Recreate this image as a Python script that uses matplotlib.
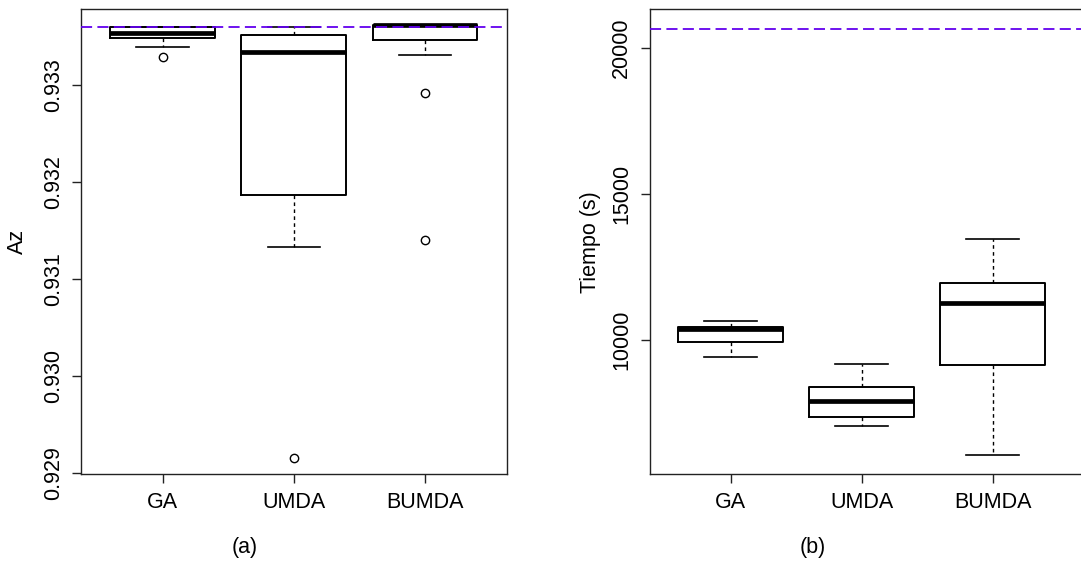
import matplotlib
matplotlib.use("Agg")
import matplotlib.pyplot as plt

plt.rcParams['font.family'] = ['Liberation Sans', 'DejaVu Sans']
plt.rcParams['lines.scale_dashes'] = False

algos = ["GA", "UMDA", "BUMDA"]

# Az per algorithm
az_med = [0.93353, 0.933337, 0.93361]
az_q1 = [0.933481, 0.931860, 0.933458]
az_q3 = [0.933592, 0.933515, 0.93361]
az_lo = [0.933389, 0.931324, 0.933306]
az_hi = [0.933592, 0.933592, 0.93361]
az_out = [[0.933282], [0.929155], [0.932918, 0.931402]]
az_ref = 0.933598
az_ticks = [0.929, 0.930, 0.931, 0.932, 0.933]

# running time (s) per algorithm
t_med = [10366, 7924, 11276]
t_q1 = [9932, 7377, 9135]
t_q3 = [10455, 8393, 11960]
t_lo = [9408, 7059, 6080]
t_hi = [10640, 9190, 13465]
t_out = [[], [], []]
t_ref = 20626
t_ticks = [10000, 15000, 20000]

FS = 15.5
EDGE = '#222222'
REF_COLOR = '#6200ee'


def make_stats(med, q1, q3, lo, hi, out):
    stats = []
    for i, name in enumerate(algos):
        stats.append(dict(label=name, med=med[i], q1=q1[i], q3=q3[i],
                          whislo=lo[i], whishi=hi[i], fliers=out[i]))
    return stats


def draw_panel(ax, stats, ref, ticks, ylabel, xlim, ylim, label_x):
    ax.bxp(stats, positions=[1, 2, 3], widths=0.8, capwidths=0.4,
           boxprops=dict(color='black', linewidth=1.4),
           medianprops=dict(color='black', linewidth=3.4, solid_capstyle='butt'),
           whiskerprops=dict(color='black', linewidth=1.0, linestyle=(0, (2.6, 2.4))),
           capprops=dict(color='black', linewidth=1.2),
           flierprops=dict(marker='o', markerfacecolor='none', markeredgecolor='black',
                           markersize=6, markeredgewidth=1.0))
    ax.axhline(ref, color=REF_COLOR, linewidth=1.3, dashes=(8, 3.8), zorder=5)
    ax.set_xlim(*xlim)
    ax.set_ylim(*ylim)
    ax.set_yticks(ticks)
    ax.set_xticks([1, 2, 3])
    ax.set_xticklabels(algos)
    ax.tick_params(axis='both', direction='out', length=6.5, width=1.0,
                   color=EDGE, labelsize=FS, pad=6)
    ax.tick_params(axis='y', labelrotation=90)
    for lab in ax.get_yticklabels():
        lab.set_va('center')
    for sp in ax.spines.values():
        sp.set_color(EDGE)
        sp.set_linewidth(1.0)
    ax.set_ylabel(ylabel, fontsize=FS)
    ax.yaxis.label.set_va('center')
    ax.yaxis.set_label_coords(label_x, 0.5)


fig = plt.figure(figsize=(10.81, 5.62), dpi=100)
W, H = 1081.0, 562.0

ax1 = fig.add_axes([81 / W, 1 - 474.3 / H, (507 - 81) / W, (474.3 - 9) / H])
draw_panel(ax1, make_stats(az_med, az_q1, az_q3, az_lo, az_hi, az_out), az_ref,
           az_ticks, "Az", (0.377, 3.625), (0.928983, 0.93378), -0.150)
ax1.set_yticklabels(["%.3f" % v for v in az_ticks])

ax2 = fig.add_axes([649.7 / W, 1 - 474.3 / H, (1082 - 649.7) / W, (474.3 - 9) / H])
draw_panel(ax2, make_stats(t_med, t_q1, t_q3, t_lo, t_hi, t_out), t_ref,
           t_ticks, "Tiempo (s)", (0.382, 3.682), (5407, 21320), -0.138)
ax2.set_yticklabels([str(v) for v in t_ticks])

fig.text(245 / W, 1 - 548 / H, "(a)", fontsize=FS, ha='center', va='center')
fig.text(813 / W, 1 - 548 / H, "(b)", fontsize=FS, ha='center', va='center')

fig.savefig("out.png", dpi=100)
